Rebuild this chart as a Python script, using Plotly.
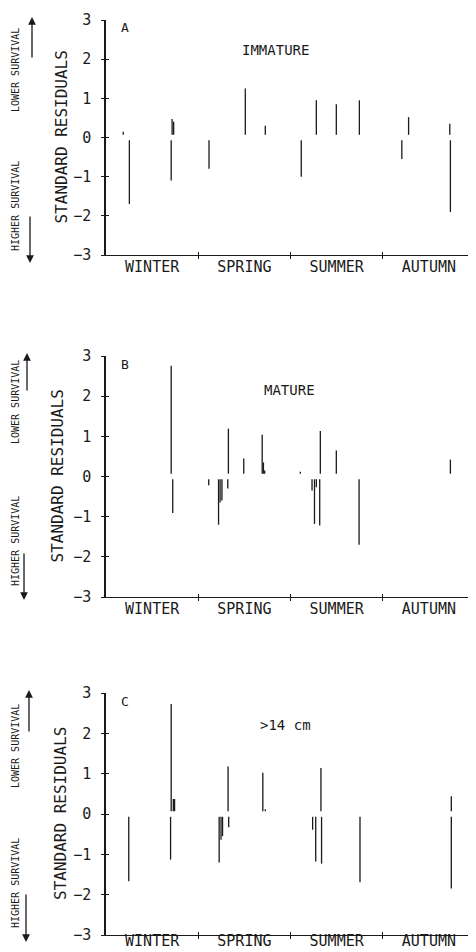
import plotly.graph_objects as go

# page body adds an 8 px margin, so the figure is sized to fit the 476x952 window
OFF = 8
W, H = 476 - OFF, 952 - OFF

# ---- data: month position within the year (0-12) and standard residual ----
seasons = ["WINTER", "SPRING", "SUMMER", "AUTUMN"]
season_centres = [1.5, 4.5, 7.5, 10.5]
season_bounds = [3, 6, 9, 12]
y_ticks = [-3, -2, -1, 0, 1, 2, 3]

a_month = [0.56, 0.76, 2.12, 2.15, 2.20, 3.35, 4.53, 5.18, 6.35, 6.84, 7.49, 8.24, 9.62, 9.84, 11.18, 11.20]
a_resid = [0.15, -1.70, -1.10, 0.47, 0.40, -0.80, 1.25, 0.30, -1.00, 0.95, 0.85, 0.95, -0.55, 0.52, 0.35, -1.90]

b_month = [2.12, 2.17, 3.34, 3.66, 3.71, 3.77, 3.96, 3.98, 4.48, 5.08, 5.12, 5.16, 6.32, 6.70, 6.78, 6.84,
           6.95, 6.97, 7.49, 8.23, 11.20]
b_resid = [2.76, -0.91, -0.22, -1.20, -0.65, -0.60, -0.30, 1.19, 0.45, 1.04, 0.35, 0.15, 0.12, -0.35, -1.18, -0.27,
           -1.22, 1.13, 0.65, -1.70, 0.42]

c_month = [0.74, 2.10, 2.12, 2.19, 2.23, 3.68, 3.74, 3.79, 3.97, 3.99, 5.10, 5.18, 6.72, 6.82, 6.99, 7.01,
           8.26, 11.23, 11.23]
c_resid = [-1.67, -1.13, 2.73, 0.37, 0.37, -1.20, -0.64, -0.55, 1.18, -0.33, 1.02, 0.12, -0.39, -1.18, 1.14, -1.23,
           -1.69, 0.44, -1.85]

panel_letters = ["A", "B", "C"]
panel_titles = ["IMMATURE", "MATURE", ">14 cm"]

# ---- style ----
FONT = "DejaVu Sans Mono"
INK = "#1a1a1a"
GAP = 0.07  # small visual gap around zero, as in the original plotter output

# plot-area pixel boxes (top, bottom) for each panel, in window pixels
panel_px = [(20, 255), (356, 597), (693, 935)]
x_px = (106, 475)
label_standoff = [-2, -2, -8]
ytitle_x = [61, 57, 60]


def px_x(p):
    return (p - OFF) / W


def px_y(p):
    return 1 - (p - OFF) / H


def segs(months, resid):
    xs, ys = [], []
    for m, r in zip(months, resid):
        base = GAP if r > 0 else -GAP
        xs += [m, m, None]
        ys += [base, r, None]
    return xs, ys


fig = go.Figure()
data = [(a_month, a_resid), (b_month, b_resid), (c_month, c_resid)]
layout = dict(
    width=W, height=H, template="none",
    margin=dict(l=0, r=0, t=0, b=0),
    paper_bgcolor="white", plot_bgcolor="white",
    showlegend=False,
    font=dict(family=FONT, color=INK),
)
annotations = []

for i, (mo, rs) in enumerate(data):
    sfx = "" if i == 0 else str(i + 1)
    osfx = str(i + 4)  # overlay axes giving the ticks that cross the axis line
    xs, ys = segs(mo, rs)
    fig.add_trace(go.Scatter(x=xs, y=ys, mode="lines",
                             line=dict(color=INK, width=1.3),
                             xaxis="x" + sfx, yaxis="y" + sfx, hoverinfo="skip",
                             cliponaxis=False))
    # empty traces so the overlay axes are drawn
    fig.add_trace(go.Scatter(x=[None], y=[None], mode="lines", xaxis="x" + osfx, yaxis="y" + sfx,
                             hoverinfo="skip"))
    fig.add_trace(go.Scatter(x=[None], y=[None], mode="lines", xaxis="x" + sfx, yaxis="y" + osfx,
                             hoverinfo="skip"))
    top, bot = panel_px[i]
    xdom = [px_x(x_px[0]), min(1.0, px_x(x_px[1]))]
    ydom = [px_y(bot), px_y(top)]
    layout["xaxis" + sfx] = dict(
        domain=xdom, range=[0, 12], anchor="y" + sfx,
        showgrid=False, zeroline=False, showline=True, linecolor=INK, linewidth=1.2,
        tickmode="array", tickvals=season_centres, ticktext=seasons, ticks="",
        tickfont=dict(family=FONT, size=15, color=INK), ticklabelstandoff=label_standoff[i],
        minor=dict(tickmode="array", tickvals=season_bounds, ticks="outside",
                   ticklen=3, tickcolor=INK, tickwidth=1.2),
        automargin=False, fixedrange=True,
    )
    layout["xaxis" + osfx] = dict(
        domain=xdom, range=[0, 12], anchor="y" + sfx, overlaying="x" + sfx,
        showgrid=False, zeroline=False, showline=False, showticklabels=False,
        tickmode="array", tickvals=season_bounds, ticks="inside", ticklen=3,
        tickcolor=INK, tickwidth=1.2, automargin=False, fixedrange=True,
    )
    layout["yaxis" + sfx] = dict(
        domain=ydom, range=[-3, 3], anchor="x" + sfx,
        showgrid=False, zeroline=False, showline=True, linecolor=INK, linewidth=1.5,
        tickmode="array", tickvals=y_ticks, ticks="outside", ticklen=3,
        tickcolor=INK, tickwidth=1.2,
        tickfont=dict(family=FONT, size=15, color=INK), ticklabelstandoff=7,
        automargin=False, fixedrange=True,
    )
    layout["yaxis" + osfx] = dict(
        domain=ydom, range=[-3, 3], anchor="x" + sfx, overlaying="y" + sfx,
        showgrid=False, zeroline=False, showline=False, showticklabels=False,
        tickmode="array", tickvals=y_ticks, ticks="inside", ticklen=3,
        tickcolor=INK, tickwidth=1.2, automargin=False, fixedrange=True,
    )
    mid = (top + bot) / 2
    # axis title
    annotations.append(dict(xref="paper", yref="paper", x=px_x(ytitle_x[i]), y=px_y(mid),
                            text="STANDARD RESIDUALS", textangle=-90, showarrow=False,
                            font=dict(family=FONT, size=16, color=INK),
                            xanchor="center", yanchor="middle"))
    # panel letter and title
    annotations.append(dict(xref="paper", yref="paper", x=px_x(119), y=px_y(top + 8),
                            text=panel_letters[i], showarrow=False,
                            font=dict(family=FONT, size=13, color=INK),
                            xanchor="left", yanchor="middle"))
    title_pos = [(275, 50), (289, 390), (285, 725)][i]
    annotations.append(dict(xref="paper", yref="paper", x=px_x(title_pos[0]), y=px_y(title_pos[1]),
                            text=panel_titles[i], showarrow=False,
                            font=dict(family=FONT, size=14, color=INK),
                            xanchor="center", yanchor="middle"))
    # survival labels
    lower_c = [70, 402, 746][i]
    higher_c = [206, 541, 883][i]
    annotations.append(dict(xref="paper", yref="paper", x=px_x(15), y=px_y(lower_c),
                            text="LOWER SURVIVAL", textangle=-90, showarrow=False,
                            font=dict(family=FONT, size=10, color=INK),
                            xanchor="center", yanchor="middle"))
    annotations.append(dict(xref="paper", yref="paper", x=px_x(15), y=px_y(higher_c),
                            text="HIGHER SURVIVAL", textangle=-90, showarrow=False,
                            font=dict(family=FONT, size=10, color=INK),
                            xanchor="center", yanchor="middle"))
    # arrows (head, tail) in window pixels
    up = [((32, 17), (32, 59)), ((27, 353), (27, 392)), ((29, 690), (29, 733))][i]
    dn = [((30, 263), (30, 215)), ((24, 600), (24, 552)), ((26, 942), (26, 893))][i]
    for head, tail in (up, dn):
        annotations.append(dict(xref="paper", yref="paper", x=px_x(head[0]), y=px_y(head[1]),
                                ax=0, ay=tail[1] - head[1], axref="pixel", ayref="pixel",
                                text="", showarrow=True, arrowhead=2, arrowsize=1.2,
                                arrowwidth=1.3, arrowcolor=INK))

layout["annotations"] = annotations
fig.update_layout(**layout)
fig.write_html("out.html")
